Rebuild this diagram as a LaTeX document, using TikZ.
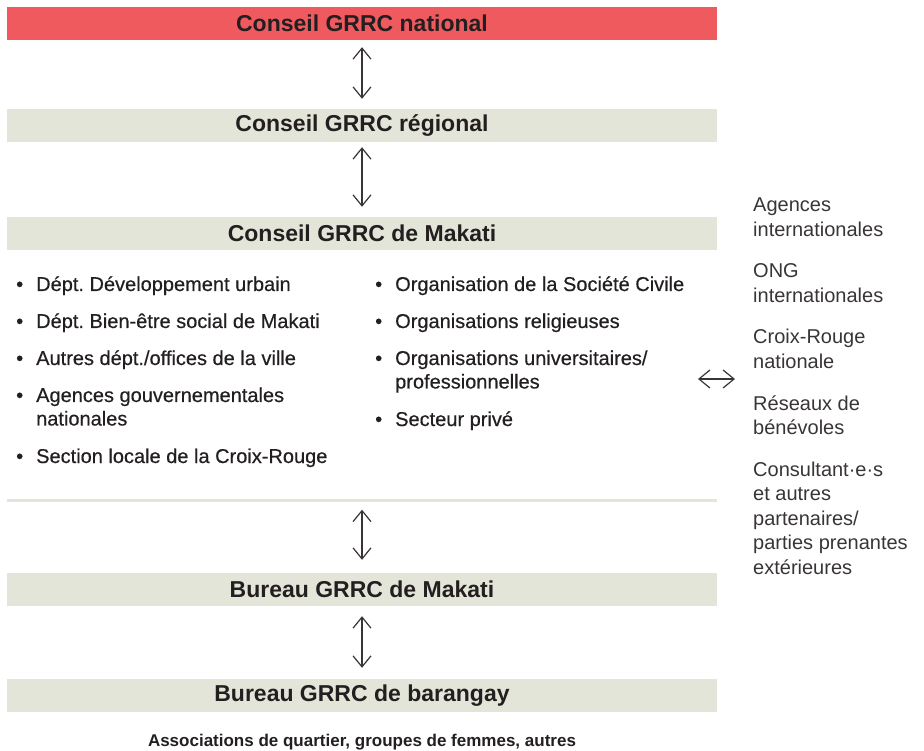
\documentclass[tikz,border=0pt]{standalone}
\usepackage{fontspec}
\setmainfont{Liberation Sans}
\newfontfamily\medfont[FakeBold=0.5]{Liberation Sans}
\usetikzlibrary{arrows.meta, positioning}
\frenchspacing

\definecolor{natred}{HTML}{EF5A5F}
\definecolor{barbeige}{HTML}{E4E5D9}
\definecolor{inktext}{HTML}{231F20}

% lines of one entry, first baseline on the node's base
\newcommand{\stacklines}[1]{\begin{tabular}[t]{@{}l@{}}#1\end{tabular}}

\tikzset{
    bar/.style={minimum width=710pt, minimum height=33pt, inner sep=0pt, text=inktext,
        font=\fontsize{23}{26}\selectfont\bfseries},
    link/.style={{Straight Barb[length=11pt,width=18pt]}-{Straight Barb[length=11pt,width=18pt]},
        line width=1.2pt, draw=inktext!90},
    item/.style={anchor=base west, inner sep=0pt, text=inktext,
        font=\medfont\fontsize{20}{23.5}\selectfont},
    partner/.style={anchor=base west, inner sep=0pt, text=inktext!90,
        font=\fontsize{20}{24.5}\selectfont}
}

\begin{document}
\begin{tikzpicture}[x=1pt, y=-1pt]
    \useasboundingbox (0,0) rectangle (924,751);

    % Levels
    \node[bar, fill=natred] (nat) at (362,23.5) {Conseil GRRC national};
    \node[bar, fill=barbeige] (reg) at (362,125.5) {Conseil GRRC régional};
    \node[bar, fill=barbeige] (mkc) at (362,233.5) {Conseil GRRC de Makati};
    \node[fill=barbeige, minimum width=710pt, minimum height=3pt, inner sep=0pt] (sep) at (362,500) {};
    \node[bar, fill=barbeige] (mkb) at (362,589.5) {Bureau GRRC de Makati};
    \node[bar, fill=barbeige] (brg) at (362,695.5) {Bureau GRRC de barangay};
    \node[anchor=base, inner sep=0pt, text=inktext, font=\fontsize{17}{20}\selectfont\bfseries]
        (assoc) at (362,746) {Associations de quartier, groupes de femmes, autres};

    % Links between levels
    \draw[link, shorten <=7pt, shorten >=10pt] (nat) -- (reg);
    \draw[link, shorten <=5pt, shorten >=10pt] (reg) -- (mkc);
    \draw[link, shorten <=8pt, shorten >=13pt] (sep) -- (mkb);
    \draw[link, shorten <=10pt, shorten >=11pt] (mkb) -- (brg);

    % Members of the Makati council
    \foreach \y/\txt [count=\i] in {291/{Dépt. Développement urbain},
            328/{Dépt. Bien-être social de Makati}, 365/{Autres dépt./offices de la ville},
            402/{Agences gouvernementales\\nationales}, 463/{Section locale de la Croix-Rouge}} {
        \node[item] at (16,\y) {•};
        \node[item] (left\i) at (36,\y) {\stacklines{\txt}};
    }
    \foreach \y/\txt [count=\i] in {291/{Organisation de la Société Civile},
            328/{Organisations religieuses}, 365/{Organisations universitaires/\\professionnelles},
            426/{Secteur privé}} {
        \node[item] at (375,\y) {•};
        \node[item] (right\i) at (395,\y) {\stacklines{\txt}};
    }

    % Outside partners
    \foreach \y/\txt [count=\i] in {212/{Agences\\internationales}, 278/{ONG\\internationales},
            344/{Croix-Rouge\\nationale}, 410/{Réseaux de\\bénévoles},
            476/{Consultant·e·s\\et autres\\partenaires/\\parties prenantes\\extérieures}} {
        \node[partner] (ext\i) at (753,\y) {\stacklines{\txt}};
    }
    \coordinate (mkside) at (698,379);
    \coordinate (extside) at (735,379);
    \draw[link] (mkside) -- (extside);
\end{tikzpicture}
\end{document}
